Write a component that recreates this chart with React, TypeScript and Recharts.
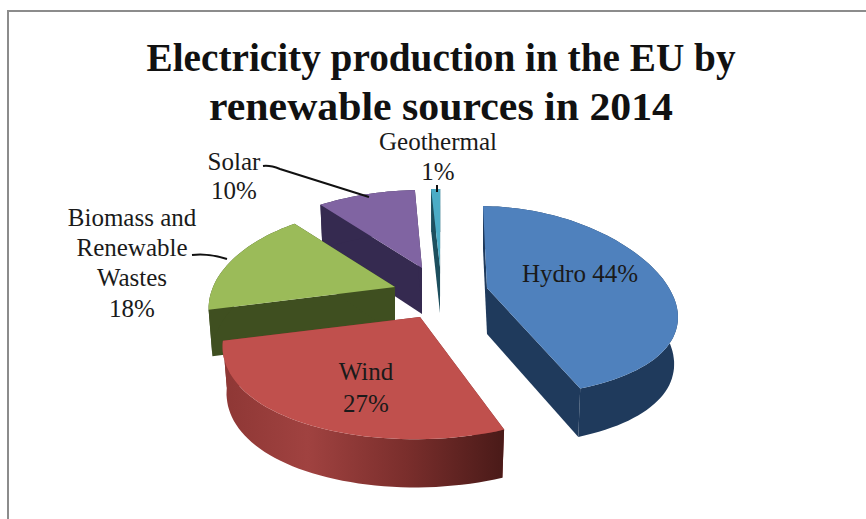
import { PieChart, Pie } from 'recharts'

const sources = ['Hydro', 'Wind', 'Biomass and Renewable Wastes', 'Solar', 'Geothermal']
const shares = [44, 27, 18, 10, 1]
const titleLines = ['Electricity production in the EU by', 'renewable sources in 2014']

const data = sources.map((name, i) => ({ name, value: shares[i] }))

// Back slices are painted first so the front ones overlap them
const paintOrder = ['Solar', 'Geothermal', 'Hydro', 'Biomass and Renewable Wastes', 'Wind']

const FONT = '"Liberation Serif", serif'

// Fake 3D: tilt and perspective of the pie plane, and the extrusion depth
const TILT = 0.513
const PERSPECTIVE_X = 0.265
const DEPTH = 46
const BOTTOM_SCALE = 0.98

type SliceStyle = {
  dx: number
  dy: number
  scaleX: number
  scaleY: number
  skew: number
  perspectiveY: number
  top: string
  side: string
  rim: string
  text: { lines: string[]; x: number; y: number[] }
  leader?: string
}

const sliceStyles: Record<string, SliceStyle> = {
  Hydro: {
    dx: 57, dy: -2, scaleX: 1, scaleY: 1, skew: 0.08, perspectiveY: 0.14,
    top: '#4f81bd', side: '#1f3a5c', rim: '#1f3a5c',
    text: { lines: ['Hydro 44%'], x: 580, y: [282] },
  },
  Wind: {
    dx: -10, dy: 27, scaleX: 1.04, scaleY: 1.05, skew: -0.04, perspectiveY: 0.198,
    top: '#c0504d', side: '#7a2e2c', rim: 'url(#windRim)',
    text: { lines: ['Wind', '27%'], x: 366, y: [380, 412] },
  },
  'Biomass and Renewable Wastes': {
    dx: -35, dy: -3, scaleX: 1, scaleY: 1, skew: 0.1, perspectiveY: 0.198,
    top: '#9bbb59', side: '#3f4f20', rim: '#3f4f20',
    text: { lines: ['Biomass and', 'Renewable', 'Wastes', '18%'], x: 132, y: [226, 256, 286, 317] },
    leader: 'M192 255 Q208 253 227 259',
  },
  Solar: {
    dx: -8, dy: -22, scaleX: 1.08, scaleY: 1, skew: 0, perspectiveY: 0.198,
    top: '#8064a2', side: '#352a50', rim: '#352a50',
    text: { lines: ['Solar', '10%'], x: 234, y: [170, 199] },
    leader: 'M263 166 Q270 165 280 169 L369 197',
  },
  Geothermal: {
    dx: 10, dy: -23, scaleX: 1, scaleY: 1, skew: 0.03, perspectiveY: 0.198,
    top: '#4bacc6', side: '#1d4f5e', rim: '#1d4f5e',
    text: { lines: ['Geothermal', '1%'], x: 438, y: [150, 180] },
    leader: 'M437 185 L437 192',
  },
}

// Projects a pie angle (clockwise from twelve o'clock) on to the tilted plane
function project(deg: number, r: number, lower: boolean, style: SliceStyle) {
  const a = (deg * Math.PI) / 180
  const c = Math.cos(a)
  const y = ((-r * TILT * c) / (1 + style.perspectiveY * c)) * style.scaleY
  const x = ((r * Math.sin(a)) / (1 + PERSPECTIVE_X * c)) * style.scaleX + style.skew * y
  if (!lower) return [x, y]
  return [x * BOTTOM_SCALE, y * BOTTOM_SCALE + DEPTH * (1 - 0.1 * c)]
}

function arcPoints(from: number, to: number, r: number, lower: boolean, style: SliceStyle) {
  const steps = Math.max(2, Math.ceil(Math.abs(to - from) / 2))
  const pts: number[][] = []
  for (let i = 0; i <= steps; i++) {
    pts.push(project(from + ((to - from) * i) / steps, r, lower, style))
  }
  return pts
}

const toPath = (pts: number[][]) =>
  'M' + pts.map(([x, y]) => `${x.toFixed(1)} ${y.toFixed(1)}`).join('L') + 'Z'

function Slice3D(props: any, layer: string) {
  if (props.name !== layer) return <g />
  const style = sliceStyles[layer]
  const { cx, cy, outerRadius: r, startAngle, endAngle } = props
  // Recharts angles run counter-clockwise from three o'clock
  const from = 90 - startAngle
  const to = 90 - endAngle
  const x0 = cx + style.dx
  const y0 = cy + style.dy

  const topArc = arcPoints(from, to, r, false, style)
  const lowArc = arcPoints(from, to, r, true, style)
  const apexTop = [0, 0]
  const apexLow = [0, DEPTH]

  const cutStart = [apexTop, topArc[0], lowArc[0], apexLow]
  const cutEnd = [apexTop, topArc[topArc.length - 1], lowArc[lowArc.length - 1], apexLow]
  const rim = [...topArc, ...lowArc.slice().reverse()]
  const top = [apexTop, ...topArc]

  return (
    <g>
      <g transform={`translate(${x0} ${y0})`}>
        <path d={toPath(cutStart)} fill={style.side} />
        <path d={toPath(cutEnd)} fill={style.side} />
        <path d={toPath(rim)} fill={style.rim} />
        <path d={toPath(top)} fill={style.top} />
      </g>
      {style.leader && <path d={style.leader} fill="none" stroke="#111" strokeWidth={2} />}
      {style.text.lines.map((line, i) => (
        <text
          key={line}
          x={style.text.x}
          y={style.text.y[i]}
          textAnchor="middle"
          fontFamily={FONT}
          fontSize={25}
          fill="#1a1a1a"
        >
          {line}
        </text>
      ))}
    </g>
  )
}

export default function App() {
  return (
    <div style={{ position: 'fixed', left: 0, top: 0, width: 866, height: 519, background: '#fff', overflow: 'hidden' }}>
      <div
        style={{
          position: 'absolute',
          left: 7,
          top: 10,
          width: 900,
          height: 600,
          borderLeft: '2px solid #8c8c8c',
          borderTop: '2px solid #8c8c8c',
        }}
      />
      <div style={{ position: 'absolute', left: 0, top: 0 }}>
        <PieChart width={866} height={519} margin={{ top: 0, right: 0, bottom: 0, left: 0 }}>
          <defs>
            <linearGradient id="windRim" gradientUnits="userSpaceOnUse" x1={-197} y1={0} x2={85} y2={0}>
              <stop offset="0" stopColor="#8e3735" />
              <stop offset="0.3" stopColor="#a04240" />
              <stop offset="0.65" stopColor="#7a2e2c" />
              <stop offset="1" stopColor="#491a18" />
            </linearGradient>
          </defs>
          {paintOrder.map((layer) => (
            <Pie
              key={layer}
              data={data}
              dataKey="value"
              nameKey="name"
              cx={430}
              cy={290}
              innerRadius={0}
              outerRadius={182}
              startAngle={89}
              endAngle={-271}
              paddingAngle={0}
              stroke="none"
              isAnimationActive={false}
              shape={(props: any) => Slice3D(props, layer)}
            />
          ))}
          {titleLines.map((line, i) => (
            <text
              key={line}
              x={441}
              y={i === 0 ? 71 : 120}
              textAnchor="middle"
              textLength={i === 0 ? 589 : 464}
              lengthAdjust="spacingAndGlyphs"
              fontFamily={FONT}
              fontWeight="bold"
              fontSize={40}
              fill="#111"
            >
              {line}
            </text>
          ))}
        </PieChart>
      </div>
    </div>
  )
}
